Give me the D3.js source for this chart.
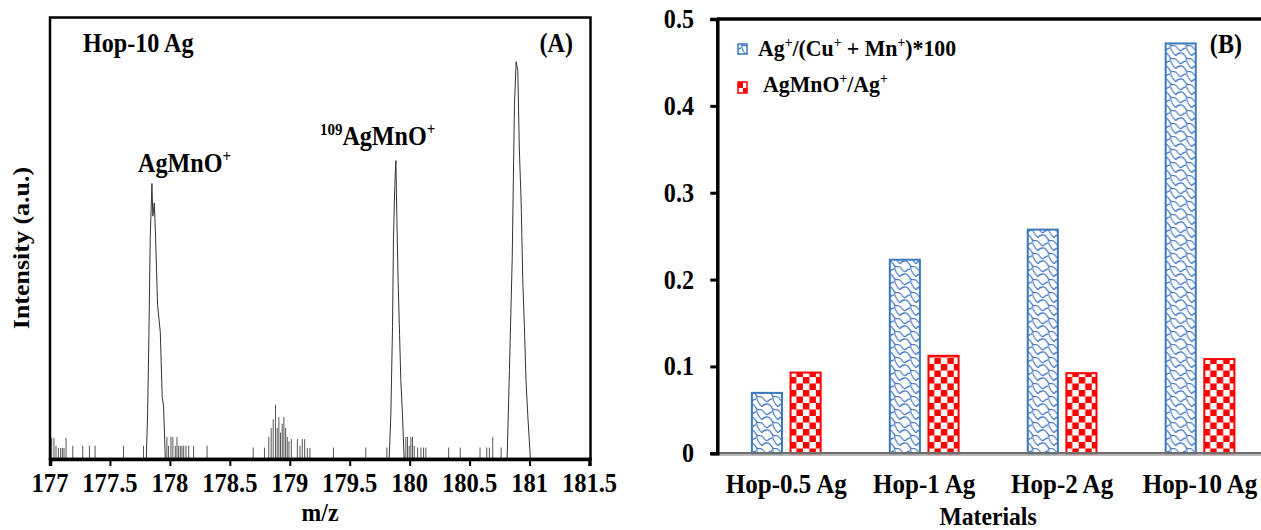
<!DOCTYPE html>
<html>
<head>
<meta charset="utf-8">
<script src="https://cdn.jsdelivr.net/npm/d3@7"></script>
<style>
  html, body { margin: 0; padding: 0; background: #fff; }
  svg { display: block; }
  text { font-family: "Liberation Serif", "Times New Roman", serif; font-weight: bold; fill: #000; }
</style>
</head>
<body>
<svg id="chart" width="1261" height="530"></svg>
<script>
// ---------------- DATA ----------------
// Panel A: mass spectrum (m/z vs relative intensity, % of frame height)
const mzTicks = [177, 177.5, 178, 178.5, 179, 179.5, 180, 180.5, 181, 181.5];
const mzTickLabels = ["177", "177.5", "178", "178.5", "179", "179.5", "180", "180.5", "181", "181.5"];
const peakMz = [177.000, 177.803, 177.814, 177.825, 177.836, 177.850, 177.858, 177.870, 177.881, 177.897, 177.920, 177.936, 177.947, 177.962,
  179.829, 179.843, 179.857, 179.865, 179.876, 179.885, 179.893, 179.904, 179.916, 179.926, 179.940, 179.954,
  180.813, 180.832, 180.855, 180.874, 180.888, 180.902, 180.915, 180.930, 180.944, 180.957, 180.970, 180.985, 181.007, 181.500];
const peakInt = [0, 0, 10, 28, 50, 62.4, 55, 58, 50, 35, 28.7, 14, 12, 0,
  0, 10, 30, 50, 62, 67.6, 55, 40, 28, 18, 10, 0,
  0, 20, 45, 80, 90, 88, 70, 58, 40, 30, 18, 10, 0, 0];
const noiseMz = [177.014, 177.033, 177.050, 177.070, 177.089, 177.103, 177.117, 177.134, 177.190, 177.273, 177.329, 177.376, 177.613, 177.780,
  177.975, 177.989, 178.009, 178.025, 178.045, 178.059, 178.073, 178.087, 178.101, 178.115, 178.134, 178.157, 178.198, 178.310,
  178.695, 178.789, 178.825, 178.845, 178.862, 178.881, 178.895, 178.909, 178.923, 178.937, 178.951, 178.965, 178.979, 178.993, 179.013, 179.063, 179.085, 179.104, 179.124, 179.146, 179.168,
  179.364, 179.634, 179.810,
  179.968, 179.982, 179.996, 180.010, 180.024, 180.038, 180.066, 180.094, 180.116, 180.135,
  180.325, 180.422, 180.587, 180.643, 180.665, 180.693, 180.763];
const noiseInt = [4.8, 4.8, 3, 2.5, 2.5, 2.5, 2.5, 4.8, 3, 3, 3, 3, 3, 3,
  5, 3, 5, 5, 3, 5, 3, 3, 3, 3, 3, 3, 3, 3,
  2.6, 2.6, 5, 7, 9, 12.3, 7, 9.5, 6, 8, 9.5, 7, 5, 4, 4.5, 4.5, 3, 4.5, 4.5, 2.5, 2.5,
  2.6, 2.6, 2.6,
  5, 5, 3, 5, 5, 3, 2.6, 2.6, 2.6, 2.6,
  2.6, 2.6, 2.6, 2.6, 2.6, 5, 2.6];

// Panel B: grouped bars
const materials = ["Hop-0.5 Ag", "Hop-1 Ag", "Hop-2 Ag", "Hop-10 Ag"];
const seriesNames = ["ratioAg", "ratioAgMnO"];
const agRatio = [0.0707, 0.224, 0.2587, 0.473];      // Ag+/(Cu+ + Mn+)*100
const agMnORatio = [0.0941, 0.1134, 0.0934, 0.1096]; // AgMnO+/Ag+
const yTicksB = [0, 0.1, 0.2, 0.3, 0.4, 0.5];
const yTickLabelsB = ["0", "0.1", "0.2", "0.3", "0.4", "0.5"];

// ---------------- DRAW ----------------
const SX = 0.91; // horizontal squeeze of the reference's lettering
const FONT = '"Liberation Serif", "Times New Roman", serif';
const svg = d3.select("#chart");
const defs = svg.append("defs");

// blue wave pattern
const pw = defs.append("pattern").attr("id", "wave").attr("patternUnits", "userSpaceOnUse")
  .attr("width", 16).attr("height", 13).attr("x", 0).attr("y", 0);
pw.append("rect").attr("width", 16).attr("height", 13).attr("fill", "#fff");
pw.append("path")
  .attr("d", "M0,1 C3,0 4,4 6,6 C8,8 10,5 12,8 C14,11 16,12 16,12 M0,12 C2,10 3,9 5,9 M11,4 C12,2 14,1 16,1 M6,6 C5,8 6,10 8,13 M8,0 C9,2 11,3 11,4")
  .attr("fill", "none").attr("stroke", "#4f7fc8").attr("stroke-width", 1.3);

// red checker pattern
const pc = defs.append("pattern").attr("id", "checker").attr("patternUnits", "userSpaceOnUse")
  .attr("width", 13).attr("height", 13);
pc.append("rect").attr("width", 13).attr("height", 13).attr("fill", "#fff");
pc.append("rect").attr("width", 6.5).attr("height", 6.5).attr("fill", "#f00");
pc.append("rect").attr("x", 6.5).attr("y", 6.5).attr("width", 6.5).attr("height", 6.5).attr("fill", "#f00");

const pcs = defs.append("pattern").attr("id", "checkerSmall").attr("patternUnits", "objectBoundingBox")
  .attr("width", 1).attr("height", 1);
pcs.append("rect").attr("width", 10).attr("height", 12).attr("fill", "#f00");
pcs.append("rect").attr("x", 5).attr("y", 0).attr("width", 5).attr("height", 6).attr("fill", "#fff");
pcs.append("rect").attr("x", 0).attr("y", 6).attr("width", 5).attr("height", 6).attr("fill", "#fff");

function label(g, x, y, parts, size, anchor, rot) {
  const gg = g.append("g").attr("transform", `translate(${x},${y})` + (rot ? ` rotate(${rot}) scale(1,${SX})` : ` scale(${SX},1)`));
  const t = gg.append("text").attr("x", 0).attr("y", 0).attr("font-size", size)
    .style("font-family", FONT).style("font-weight", "bold")
    .attr("text-anchor", anchor || "start");
  if (typeof parts === "string") { t.text(parts); return t; }
  let shift = 0;
  parts.forEach(p => {
    const s = t.append("tspan").text(p.t);
    if (p.sup) {
      s.attr("font-size", size * 0.62).attr("dy", -size * 0.38 - shift);
      shift = -size * 0.38;
    } else {
      s.attr("dy", -shift);
      shift = 0;
    }
  });
  return t;
}

// ======== Panel A ========
const gA = svg.append("g");
const xA = d3.scaleLinear().domain([177, 181.5]).range([50, 589.5]);
const yA = d3.scaleLinear().domain([0, 100]).range([459, 17.5]);

// noise sticks
gA.append("g").selectAll("line").data(noiseMz).join("line")
  .attr("x1", d => xA(d)).attr("x2", d => xA(d))
  .attr("y1", yA(0)).attr("y2", (d, i) => yA(noiseInt[i]))
  .attr("stroke", "#555").attr("stroke-width", 1);

// peak profile
const prof = peakMz.map((m, i) => [m, peakInt[i]]);
gA.append("path").datum(prof)
  .attr("d", d3.line().x(d => xA(d[0])).y(d => yA(d[1])))
  .attr("fill", "none").attr("stroke", "#333").attr("stroke-width", 1);

// frame
gA.append("rect").attr("x", 50).attr("y", 17.5).attr("width", 540.5).attr("height", 441.5)
  .attr("fill", "none").attr("stroke", "#000").attr("stroke-width", 2.5);

// x axis (ticks via d3.axis, labels as bold serif text at the scale positions)
const axA = gA.append("g").attr("transform", `translate(0,${yA(0)})`)
  .call(d3.axisBottom(xA).tickValues(mzTicks).tickSize(7).tickFormat(() => ""));
axA.select(".domain").attr("stroke", "#000").attr("stroke-width", 3.5);
axA.selectAll(".tick line").attr("stroke", "#000").attr("stroke-width", 2);
mzTicks.forEach((v, i) => label(gA, xA(v), 492, mzTickLabels[i], 27, "middle"));

label(gA, 320, 521, "m/z", 26, "middle");
label(gA, 29, 248, "Intensity (a.u.)", 26, "middle", -90);

label(gA, 83, 52, "Hop-10 Ag", 26.5);
label(gA, 573, 52, "(A)", 26.5, "end");

label(gA, 138, 172, [{t: "AgMnO"}, {t: "+", sup: true}], 26.5);
label(gA, 320, 145, [{t: "109", sup: true}, {t: "AgMnO"}, {t: "+", sup: true}], 26.5);

// ======== Panel B ========
const gB = svg.append("g");
const xB = d3.scaleBand().domain(materials).range([717.3, 1269]).paddingInner(0.487).paddingOuter(0.2435);
const x1 = d3.scaleBand().domain(seriesNames).range([0, xB.bandwidth()]).paddingInner(0.17);
const yB = d3.scaleLinear().domain([0, 0.5]).range([453.3, 19]);

const rows = materials.map((m, i) => ({m, vals: [
  {k: "ratioAg", v: agRatio[i]}, {k: "ratioAgMnO", v: agMnORatio[i]}]}));

const grp = gB.append("g").selectAll("g").data(rows).join("g")
  .attr("transform", d => `translate(${xB(d.m)},0)`);
grp.selectAll("rect").data(d => d.vals).join("rect")
  .attr("x", d => x1(d.k) + 1)
  .attr("y", d => yB(d.v) + 1)
  .attr("width", x1.bandwidth() - 2)
  .attr("height", d => yB(0) - yB(d.v) - 1)
  .attr("fill", d => d.k === "ratioAg" ? "url(#wave)" : "url(#checker)")
  .attr("stroke", d => d.k === "ratioAg" ? "#3b79bd" : "#f00")
  .attr("stroke-width", 2);

// baseline (zero line)
gB.append("line").attr("x1", 710).attr("x2", 1261).attr("y1", yB(0)).attr("y2", yB(0))
  .attr("stroke", "#6e6e6e").attr("stroke-width", 2.5);
gB.append("line").attr("x1", 717).attr("x2", 1261).attr("y1", yB(0) + 2.2).attr("y2", yB(0) + 2.2)
  .attr("stroke", "#bbb").attr("stroke-width", 1);
// top border line
gB.append("line").attr("x1", 717).attr("x2", 1261).attr("y1", yB(0.5)).attr("y2", yB(0.5))
  .attr("stroke", "#000").attr("stroke-width", 3.5);

// y axis
const axB = gB.append("g").attr("transform", "translate(717.3,0)")
  .call(d3.axisLeft(yB).tickValues(yTicksB).tickSize(7).tickFormat(() => ""));
axB.select(".domain").attr("stroke", "#000").attr("stroke-width", 3.5);
axB.selectAll(".tick line").attr("stroke", "#000").attr("stroke-width", 3);
yTicksB.forEach((v, i) => label(gB, 694, yB(v) + 9, yTickLabelsB[i], 26.5, "end"));

// x category labels
materials.forEach(m => label(gB, xB(m) + xB.bandwidth() / 2, 493, m, 27.5, "middle"));

label(gB, 988, 525, "Materials", 26, "middle");
label(gB, 1242, 53, "(B)", 26.5, "end");

// legend
gB.append("rect").attr("x", 738).attr("y", 44).attr("width", 9).attr("height", 10)
  .attr("fill", "url(#wave)").attr("stroke", "#3b79bd").attr("stroke-width", 1.5);
label(gB, 758, 56, [{t: "Ag"}, {t: "+", sup: true}, {t: "/(Cu"}, {t: "+", sup: true}, {t: " + Mn"}, {t: "+", sup: true}, {t: ")*100"}], 24);
gB.append("rect").attr("x", 738).attr("y", 82).attr("width", 9).attr("height", 11)
  .attr("fill", "url(#checkerSmall)").attr("stroke", "#f00").attr("stroke-width", 1.5);
label(gB, 763, 92, [{t: "AgMnO"}, {t: "+", sup: true}, {t: "/Ag"}, {t: "+", sup: true}], 24);
</script>
</body>
</html>
